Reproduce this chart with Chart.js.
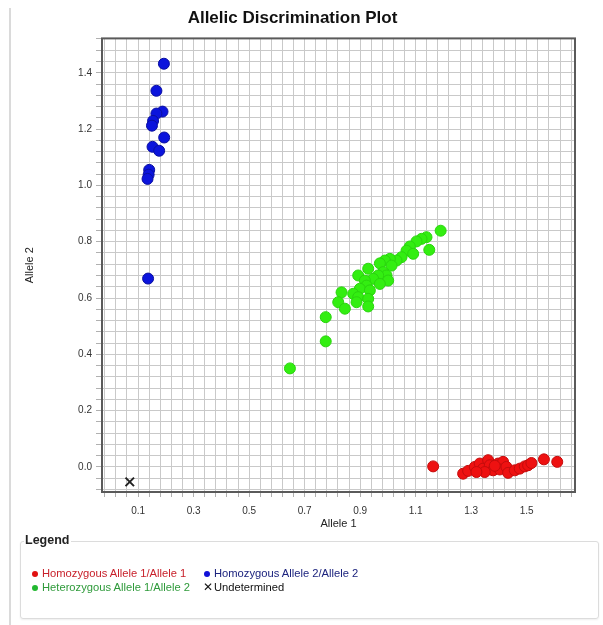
<!DOCTYPE html>
<html>
<head>
<meta charset="utf-8">
<script src="https://cdn.jsdelivr.net/npm/chart.js@4"></script>
<style>
  body { margin: 0; background: #fff; font-family: Arial, "Liberation Sans", sans-serif; }
  #page { position: relative; width: 603px; height: 625px; overflow: hidden; }
  #frame { position: absolute; left: 9px; top: 8px; width: 600px; height: 640px; border-left: 2px solid #dadada; }
  #chartBox { position: absolute; left: 0; top: 0; width: 603px; height: 535px; }
  #legendBox { position: absolute; left: 20px; top: 541px; width: 577px; height: 76px; border: 1px solid #dcdcdc; border-radius: 3px; box-shadow: 0 1px 2px #eee; }
  #legendTitle { position: absolute; left: 24px; top: 533px; font-size: 12.5px; font-weight: bold; color: #222; background: #fff; padding: 0 2px 0 1px; }
  .item { position: absolute; font-size: 11.2px; line-height: 13px; white-space: nowrap; }
  .dot { display: inline-block; width: 6px; height: 6px; border-radius: 50%; margin-right: 4px; vertical-align: 0px; }
</style>
</head>
<body>
<div id="page">
  <div id="frame"></div>
  <div id="chartBox"><canvas id="plot" width="603" height="535"></canvas></div>
  <div id="legendBox"></div>
  <div id="legendTitle">Legend</div>
  <div class="item" style="left:32px;top:567px;color:#c8202a"><span class="dot" style="background:#e01010"></span>Homozygous Allele 1/Allele 1</div>
  <div class="item" style="left:204px;top:567px;color:#1c237e"><span class="dot" style="background:#1010d8"></span>Homozygous Allele 2/Allele 2</div>
  <div class="item" style="left:32px;top:581px;color:#2e9a3a"><span class="dot" style="background:#22b830"></span>Heterozygous Allele 1/Allele 2</div>
  <div class="item" style="left:203px;top:581px;color:#111"><span style="font-size:12px;margin-right:1px">&#x2715;</span>Undetermined</div>
</div>
<script>
// Homozygous Allele 1/Allele 1 (red)
const hom1X = [1.163, 1.271, 1.289, 1.313, 1.331, 1.343, 1.361, 1.367, 1.379, 1.349, 1.397, 1.415,
               1.403, 1.427, 1.433, 1.457, 1.475, 1.493, 1.505, 1.517, 1.562, 1.610, 1.319, 1.385];
const hom1Y = [0.002, -0.024, -0.014, 0.000, 0.012, -0.006, 0.024, 0.006, -0.012, -0.018, 0.012, 0.018,
               -0.009, 0.000, -0.021, -0.012, -0.006, 0.002, 0.006, 0.014, 0.027, 0.018, -0.018, 0.004];

// Homozygous Allele 2/Allele 2 (blue)
const hom2X = [0.193, 0.166, 0.188, 0.166, 0.154, 0.150, 0.194, 0.152, 0.176, 0.140, 0.138, 0.134, 0.136];
const hom2Y = [1.432, 1.336, 1.262, 1.255, 1.229, 1.212, 1.170, 1.137, 1.123, 1.055, 1.038, 1.023, 0.669];

// Heterozygous Allele 1/Allele 2 (green)
const hetX = [1.190, 1.139, 1.121, 1.103, 1.149, 1.079, 1.067, 1.091, 1.049, 1.031, 1.007, 0.989, 0.971,
              1.013, 0.929, 0.983, 0.995, 0.965, 0.893, 0.947, 1.001, 0.971, 0.917, 0.923, 0.899, 0.935,
              0.875, 0.833, 0.893, 0.929, 0.821, 0.887, 0.845, 0.929, 0.776, 0.776, 0.647];
const hetY = [0.839, 0.816, 0.810, 0.801, 0.771, 0.783, 0.768, 0.757, 0.745, 0.733, 0.739, 0.733, 0.723,
              0.715, 0.704, 0.692, 0.680, 0.680, 0.680, 0.668, 0.662, 0.650, 0.662, 0.644, 0.633, 0.627,
              0.615, 0.620, 0.603, 0.597, 0.585, 0.585, 0.562, 0.570, 0.532, 0.446, 0.350];

// Undetermined
const undX = [0.070];
const undY = [-0.053];

const xTickLabels = ['0.1', '0.3', '0.5', '0.7', '0.9', '1.1', '1.3', '1.5'];
const yTickLabels = ['0.0', '0.2', '0.4', '0.6', '0.8', '1.0', '1.2', '1.4'];

const toPoints = (xs, ys) => xs.map((x, i) => ({ x: x, y: ys[i] }));

// minor grid every 0.04, lined up with the labelled ticks
function gridTicks(start, min, max) {
  const out = [];
  let v = start;
  while (v - 0.04 >= min) v -= 0.04;
  for (; v <= max + 1e-9; v += 0.04) out.push({ value: Math.round(v * 1000) / 1000 });
  return out;
}

const frameBorder = {
  id: 'frameBorder',
  afterDraw(chart) {
    const a = chart.chartArea, ctx = chart.ctx;
    ctx.save();
    ctx.strokeStyle = '#5a5a5a';
    ctx.lineWidth = 2;
    ctx.strokeRect(a.left, a.top, a.right - a.left, a.bottom - a.top);
    ctx.restore();
  }
};

const tickFont = { family: 'Arial, "Liberation Sans", sans-serif', size: 10 };

new Chart(document.getElementById('plot'), {
  type: 'scatter',
  data: {
    datasets: [
      { label: 'Homozygous Allele 1/Allele 1', data: toPoints(hom1X, hom1Y),
        backgroundColor: '#ee1111', borderColor: '#c40c0c', borderWidth: 1, pointRadius: 5.5 },
      { label: 'Homozygous Allele 2/Allele 2', data: toPoints(hom2X, hom2Y),
        backgroundColor: '#0b14dc', borderColor: '#0a0fa0', borderWidth: 1, pointRadius: 5.5 },
      { label: 'Heterozygous Allele 1/Allele 2', data: toPoints(hetX, hetY),
        backgroundColor: '#33ee11', borderColor: '#2ad40e', borderWidth: 1, pointRadius: 5.5 },
      { label: 'Undetermined', data: toPoints(undX, undY),
        pointStyle: 'crossRot', borderColor: '#222', borderWidth: 2, pointRadius: 6 }
    ]
  },
  options: {
    responsive: false,
    animation: false,
    layout: { padding: { left: 10, right: 28, top: 6, bottom: 0 } },
    plugins: {
      legend: { display: false },
      tooltip: { enabled: false },
      title: {
        display: true,
        text: 'Allelic Discrimination Plot',
        color: '#111',
        font: { family: 'Arial, "Liberation Sans", sans-serif', size: 17, weight: 'bold' },
        padding: { top: 2, bottom: 10 }
      }
    },
    scales: {
      x: {
        type: 'linear',
        min: -0.03,
        max: 1.674,
        afterBuildTicks: s => { s.ticks = gridTicks(0.1, -0.03, 1.674); },
        afterFit: s => { s.height = 43; },
        grid: { color: '#c9c9c9', lineWidth: 1, tickLength: 5, tickColor: '#b0b0b0' },
        border: { display: false },
        ticks: {
          autoSkip: false, maxRotation: 0, padding: 8, color: '#333', font: tickFont,
          callback: v => { const t = v.toFixed(1); return xTickLabels.includes(t) && Math.abs(v - Number(t)) < 0.001 ? t : ''; }
        },
        title: { display: true, text: 'Allele 1', color: '#222', font: { family: 'Arial, "Liberation Sans", sans-serif', size: 11 }, padding: { top: 2 } }
      },
      y: {
        type: 'linear',
        min: -0.089,
        max: 1.522,
        afterBuildTicks: s => { s.ticks = gridTicks(0, -0.089, 1.522); },
        afterFit: s => { s.width = 92; },
        grid: { color: '#c9c9c9', lineWidth: 1, tickLength: 6, tickColor: '#b0b0b0' },
        border: { display: false },
        ticks: {
          autoSkip: false, padding: 4, color: '#333', font: tickFont,
          callback: v => { const t = v.toFixed(1); return yTickLabels.includes(t) && Math.abs(v - Number(t)) < 0.001 ? t : ''; }
        },
        title: { display: true, text: 'Allele 2', color: '#222', font: { family: 'Arial, "Liberation Sans", sans-serif', size: 11 }, padding: { top: 13 } }
      }
    }
  },
  plugins: [frameBorder]
});
</script>
</body>
</html>
